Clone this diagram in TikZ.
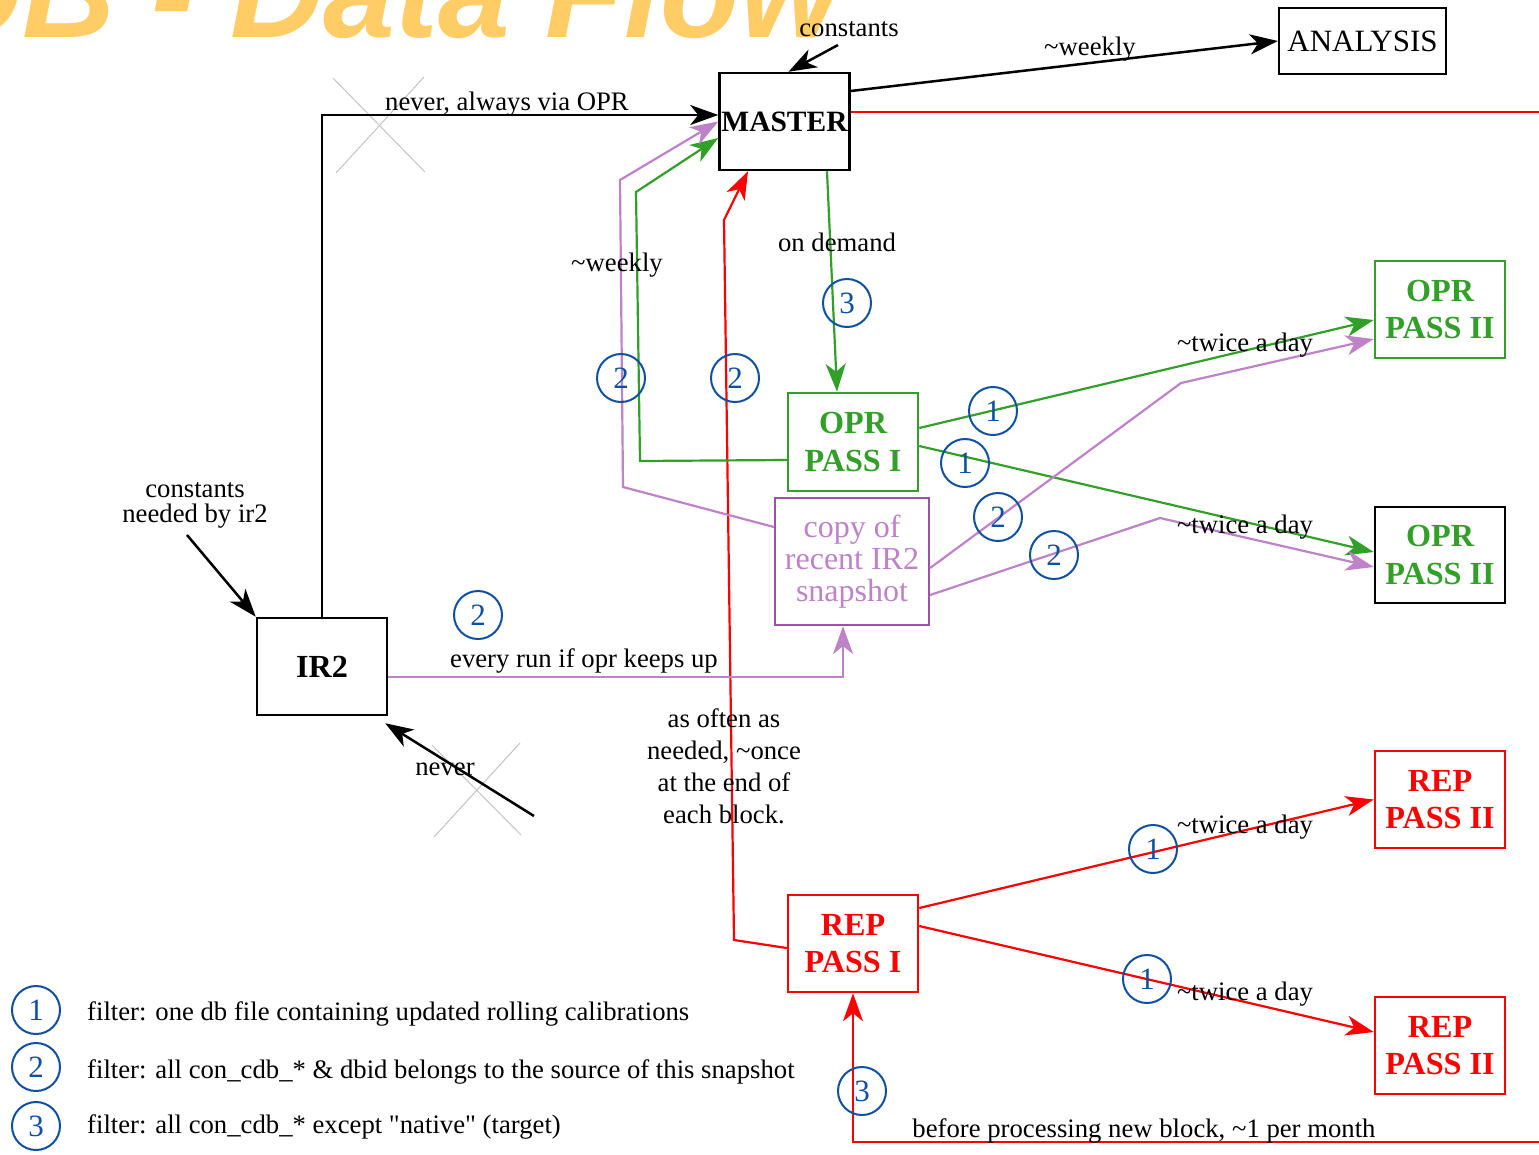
\documentclass[tikz,border=0pt]{standalone}
\usepackage{fontspec}
\setmainfont{Liberation Serif}
\newfontfamily\rawserif{Liberation Serif}[Ligatures=TeXOff]
\newfontfamily\titlefont{Liberation Sans}
\usetikzlibrary{arrows.meta,calc}
\definecolor{ogreen}{RGB}{50,160,40}
\definecolor{rred}{RGB}{255,0,0}
\definecolor{pline}{RGB}{190,130,200}
\definecolor{pbox}{RGB}{160,80,170}
\definecolor{nblue}{RGB}{16,80,160}
\definecolor{ttl}{RGB}{255,204,102}
\definecolor{xgray}{RGB}{195,195,195}
\newcommand\lblfont{\fontsize{26.7}{32}\selectfont}
\newcommand\numfont{\fontsize{31}{32}\selectfont}
\newcommand\boxfont{\fontsize{32.2}{37.5}\selectfont\bfseries}
\begin{document}
\begin{tikzpicture}[x=1pt,y=-1pt,
  box/.style={draw, rectangle, line width=2.5pt, inner sep=0pt, align=center, font=\boxfont, minimum width=130pt, minimum height=97pt},
  lbl/.style={font=\lblfont, inner sep=0pt, anchor=base},
  num/.style={circle, draw=nblue, text=nblue, line width=2pt, minimum size=48pt, inner sep=0pt, font=\numfont},
  tip/.style={-{Stealth[length=28pt,width=20pt,inset=8pt]}},
  blk/.style={draw=black, line width=2.5pt, tip},
  grn/.style={draw=ogreen, line width=2.2pt, tip},
  prp/.style={draw=pline, line width=2.2pt, tip},
  rd/.style={draw=rred, line width=2.2pt, tip},
  cross/.style={draw=xgray, line width=1pt}
]
\useasboundingbox (0,0) rectangle (1539,1154);
\fill[white] (0,0) rectangle (1539,1154);

% title (cut off at the top-left edge, as in the reference)
\node[font=\titlefont\fontsize{129}{129}\selectfont\bfseries\itshape, text=ttl, anchor=base east, inner sep=0pt] (title) at (840,37) {DB - Data Flow};

% boxes
\node[box] (MASTER) at (784.5,121.5) {\fontsize{29.5}{34}\selectfont MASTER};
\node[box, line width=2.2pt, font=\fontsize{31}{37}\selectfont, minimum width=167pt, minimum height=66pt] (ANALYSIS) at (1362.5,41) {ANALYSIS};
\node[box, draw=ogreen, text=ogreen, minimum height=98pt] (OPRI) at (853,442) {OPR\\PASS I};
\node[box, draw=pbox, text=pline, line width=2.2pt, font=\fontsize{32}{32}\selectfont, minimum width=154pt, minimum height=127pt] (COPY) at (852,561.5) {copy of\\recent IR2\\snapshot};
\node[box, draw=ogreen, text=ogreen] (OPRIIa) at (1440,309.5) {OPR\\PASS II};
\node[box, draw=black, text=ogreen, minimum height=96pt] (OPRIIb) at (1440,555) {OPR\\PASS II};
\node[box] (IR2) at (322,666.5) {IR2};
\node[box, draw=rred, text=rred] (REPIIa) at (1440,799.5) {REP\\PASS II};
\node[box, draw=rred, text=rred] (REPIIb) at (1440,1045.5) {REP\\PASS II};
\node[box, draw=rred, text=rred] (REPI) at (853,943.5) {REP\\PASS I};

% gray crosses
\draw[cross] (333,78) -- (425,172);
\draw[cross] (424,77) -- (336,173);
\draw[cross] (432,745) -- (521,835);
\draw[cross] (520,743) -- (434,837);

% free ends
\coordinate (ct) at (838,45);
\coordinate (cn) at (187,535);
\coordinate (nv) at (534,816);

% black connectors
\draw[blk] (ct) -- ($(MASTER.north)+(4,0)$);
\draw[blk] ($(MASTER.east)+(0,-30.5)$) -- (ANALYSIS.west);
\draw[blk, line join=miter] (IR2.north) |- ($(MASTER.west)+(0,-6.5)$);
\draw[blk] (cn) -- (IR2.north west);
\draw[blk] (nv) -- ($(IR2.south east)+(-3,7)$);

% red connectors
\draw[rd] ($(MASTER.east)+(0,-9.5)$) -| (1560,1142) -| (REPI.south);
\draw[rd] ($(REPI.west)+(0,4.5)$) -- (734,940) -- (724,220) -- ($(MASTER.south)+(-36.5,0)$);
\draw[rd] ($(REPI.east)+(0,-35.5)$) -- (REPIIa.west);
\draw[rd] ($(REPI.east)+(0,-17.5)$) -- ($(REPIIb.west)+(0,-13.5)$);

% green connectors
\draw[grn] ($(MASTER.south)+(42.5,0)$) -- ($(OPRI.north)+(-16,0)$);
\draw[grn] ($(OPRI.west)+(0,18)$) -- (640,461) -- (636,192) -- ($(MASTER.west)+(0,16.5)$);
\draw[grn] ($(OPRI.east)+(0,-14)$) -- ($(OPRIIa.west)+(0,10.5)$);
\draw[grn] ($(OPRI.east)+(0,4)$) -- ($(OPRIIb.west)+(0,-3)$);

% purple connectors
\draw[prp] ($(COPY.west)+(0,-34.5)$) -- (623,487) -- (620,180) -- (MASTER.west);
\draw[prp] ($(COPY.east)+(0,6.5)$) -- (1181,383) -- ($(OPRIIa.west)+(0,29.5)$);
\draw[prp] ($(COPY.east)+(0,33.5)$) -- (1160,518) -- ($(OPRIIb.west)+(0,12)$);
\draw[prp] ($(IR2.east)+(0,10.5)$) -| ($(COPY.south)+(-9,0)$);

% labels
\node[lbl] (l1) at (849,36) {constants};
\node[lbl] (l2) at (1090,55) {\textasciitilde weekly};
\node[lbl] (l3) at (507,110) {never, always via OPR};
\node[lbl] (l4) at (617,271) {\textasciitilde weekly};
\node[lbl] (l5) at (837,251) {on demand};
\node[lbl] (l6) at (1245,351) {\textasciitilde twice a day};
\node[lbl] (l7) at (1245,533) {\textasciitilde twice a day};
\node[font=\fontsize{26.7}{25}\selectfont, inner sep=0pt, align=center, anchor=base] (l8) at (195,522) {constants\\needed by ir2};
\node[lbl] (l9) at (584,667) {every run if opr keeps up};
\node[lbl] (l10) at (445,775) {never};
\node[font=\fontsize{26.7}{31.7}\selectfont, inner sep=0pt, align=center, anchor=base] (l11) at (724,823) {as often as\\needed, \textasciitilde once\\at the end of\\each block.};
\node[lbl] (l12) at (1245,833) {\textasciitilde twice a day};
\node[lbl] (l13) at (1245,1000) {\textasciitilde twice a day};
\node[lbl] (l14) at (1144,1137) {before processing new block, \textasciitilde 1 per month};

% number circles
\node[num] (c1) at (847,303) {3};
\node[num] (c2) at (621,378) {2};
\node[num] (c3) at (735,378) {2};
\node[num] (c4) at (993,411) {1};
\node[num] (c5) at (965,463) {1};
\node[num] (c6) at (998,517) {2};
\node[num] (c7) at (1054,555) {2};
\node[num] (c8) at (478,615) {2};
\node[num] (c9) at (1153,849) {1};
\node[num] (c10) at (1147,979) {1};
\node[num] (c11) at (862,1091) {3};

% legend
\node[num] (g1) at (36,1010) {1};
\node[num] (g2) at (36,1067) {2};
\node[num] (g3) at (36,1126) {3};
\node[lbl, anchor=base west] (t1) at (87,1020) {filter: one db file containing updated rolling calibrations};
\node[lbl, anchor=base west] (t2) at (87,1078) {filter: all con\_cdb\_* \& dbid belongs to the source of this snapshot};
\node[lbl, anchor=base west] (t3) at (87,1133) {filter: all con\_cdb\_* except {\rawserif"}native{\rawserif"} (target)};
\end{tikzpicture}
\end{document}
